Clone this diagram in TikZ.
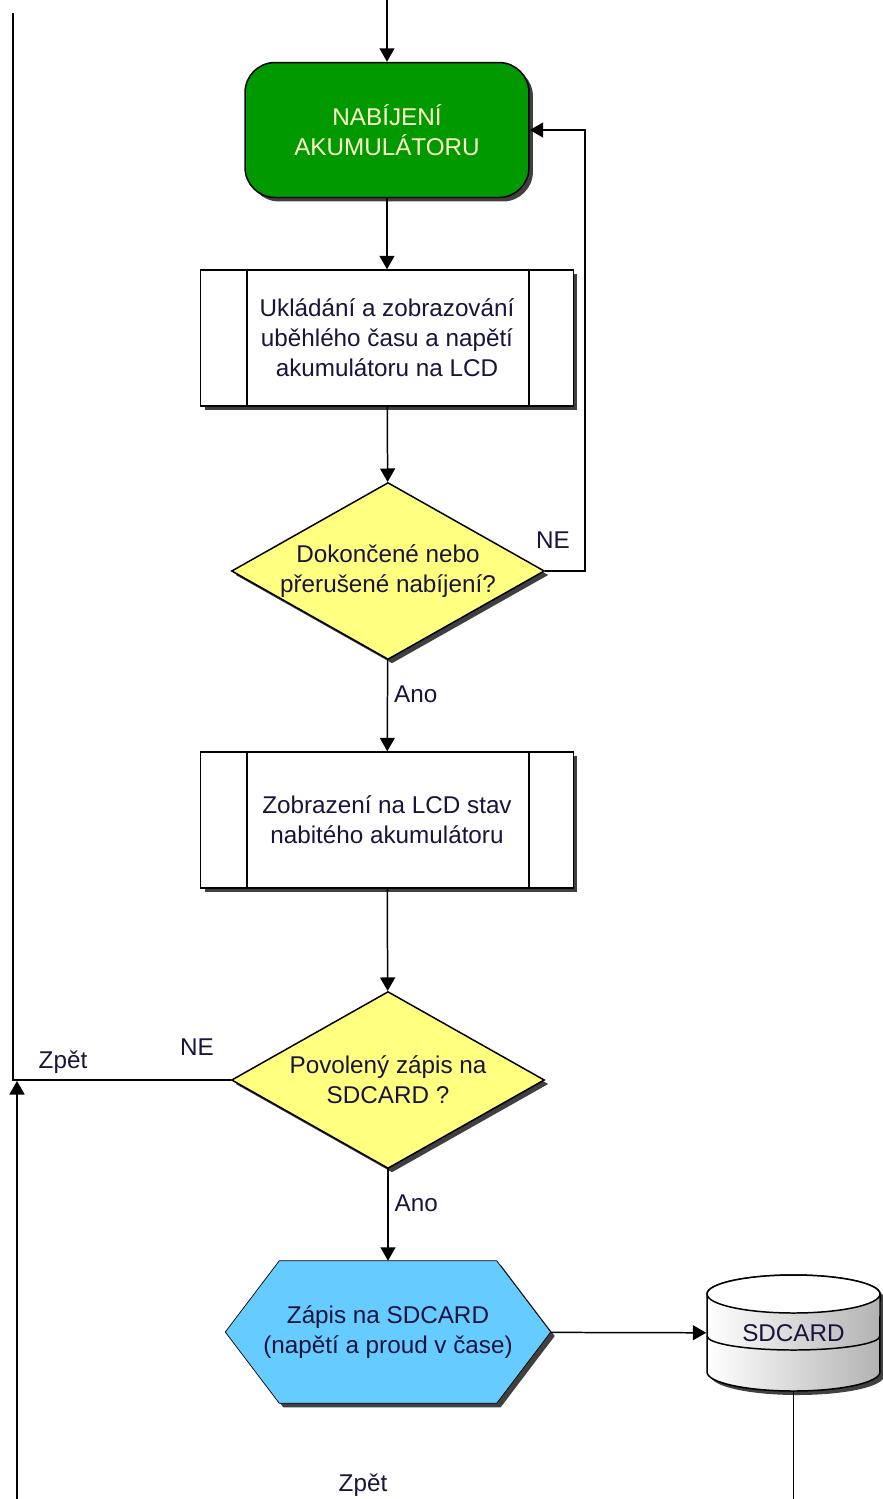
\documentclass[tikz,border=0pt]{standalone}
\usepackage{fontspec}
\setmainfont{Liberation Sans}
\usetikzlibrary{shapes.geometric,shadows,arrows.meta,backgrounds}
\definecolor{nabgreen}{RGB}{0,153,0}
\definecolor{nabtext}{RGB}{255,255,204}
\definecolor{askyellow}{RGB}{255,255,128}
\definecolor{sdblue}{RGB}{102,204,255}
\definecolor{boxtext}{RGB}{25,20,60}
\begin{document}
\begin{tikzpicture}[x=0.02cm, y=-0.02cm, line width=0.85pt,
		font=\fontsize{13.8}{17}\selectfont,
		arr/.style={-{Triangle[length=0.27cm,width=0.3cm]}},
		shadowed/.style={drop shadow={shadow xshift=0.08cm, shadow yshift=-0.08cm, fill=black!75, opacity=1}},
		startbox/.style={rectangle, rounded corners=0.6cm, fill=nabgreen, draw=black, shadowed, text=nabtext, align=center, minimum width=5.68cm, minimum height=2.7cm},
		procbox/.style={rectangle, fill=white, draw=black, shadowed, text=boxtext, align=center, minimum width=7.46cm, minimum height=2.72cm},
		askbox/.style={diamond, aspect=1.77, inner sep=0pt, fill=askyellow, draw=black, shadowed, text=boxtext, align=center, minimum width=6.26cm, minimum height=3.54cm},
		writebox/.style={rectangle, inner sep=0pt, text=boxtext, align=center, minimum width=6.48cm, minimum height=2.82cm},
		lbl/.style={text=boxtext}]
		\useasboundingbox (0,0) rectangle (883,1499);

		\coordinate (entry) at (387,0);
		\coordinate (lefttop) at (13,13);
		\coordinate (leftjoin) at (13,1080);
		\coordinate (backin) at (17,1499);
		\coordinate (backjoin) at (17,1081);
		\coordinate (cardout) at (793.5,1499);

		\node[startbox](charge) at (387,130){NABÍJENÍ\\AKUMULÁTORU};
		\node[procbox](store) at (387,338){Ukládání a zobrazování\\uběhlého času a napětí\\akumulátoru na LCD};
		\node[askbox](done) at (388,571){Dokončené nebo\\přerušené nabíjení?};
		\node[procbox](show) at (387,820){Zobrazení na LCD stav\\nabitého akumulátoru};
		\node[askbox](allow) at (388,1080){Povolený zápis na\\SDCARD ?};
		\node[writebox](write) at (388,1332){Zápis na SDCARD\\(napětí a proud v čase)};

		% hexagon behind the write text
		\begin{scope}[on background layer]
			\draw[fill=sdblue, shadowed] (write.west) -- ([xshift=1.08cm]write.north west) -- ([xshift=-1.08cm]write.north east) -- (write.east) -- ([xshift=-1.08cm]write.south east) -- ([xshift=1.08cm]write.south west) -- cycle;
		\end{scope}

		% process box side bars
		\foreach \p in {store,show}{
			\draw ([xshift=0.94cm]\p.north west) -- ([xshift=0.94cm]\p.south west);
			\draw ([xshift=-0.9cm]\p.north east) -- ([xshift=-0.9cm]\p.south east);
		}

		% SDCARD cylinder
		\fill[black!75] (711,1298) -- (711,1376) arc[start angle=180,end angle=360,x radius=1.73cm,y radius=0.38cm] -- (884,1298) arc[start angle=0,end angle=180,x radius=1.73cm,y radius=0.38cm] -- cycle;
		\shadedraw[left color=white, right color=black!30, draw=black] (707,1294) -- (707,1372) arc[start angle=180,end angle=360,x radius=1.73cm,y radius=0.38cm] -- (880,1294) arc[start angle=0,end angle=180,x radius=1.73cm,y radius=0.38cm] -- cycle;
		\draw[fill=white] (793.5,1294) ellipse [x radius=1.73cm, y radius=0.38cm];
		\draw (707,1336) arc[start angle=180,end angle=360,x radius=1.73cm,y radius=0.28cm];
		\node[minimum width=3.46cm, minimum height=2.32cm, inner sep=0pt, text=boxtext](card) at (793.5,1333){SDCARD};

		\draw[arr] (entry) -- (charge);
		\draw[arr] (charge) -- (store);
		\draw[arr] (store) -- (done);
		\draw[arr] (done.east) -- ++(40,0) |- (charge.east);
		\draw[arr] (done) -- node[lbl, right, pos=0.38]{Ano}(show);
		\draw[arr] (show) -- (allow);
		\draw (allow.west) -- (leftjoin) -- (lefttop);
		\draw[arr] (allow) -- node[lbl, right, pos=0.37]{Ano}(write);
		\draw[arr] (write) -- (card);
		\draw (card.south) -- (cardout);
		\draw[arr] (backin) -- (backjoin);

		\node[lbl](ne1) at (553,540){NE};
		\node[lbl](ne2) at (197,1047){NE};
		\node[lbl](back1) at (63,1062){Zpět};
		\node[lbl](back2) at (363,1485){Zpět};
	\end{tikzpicture}
\end{document}
